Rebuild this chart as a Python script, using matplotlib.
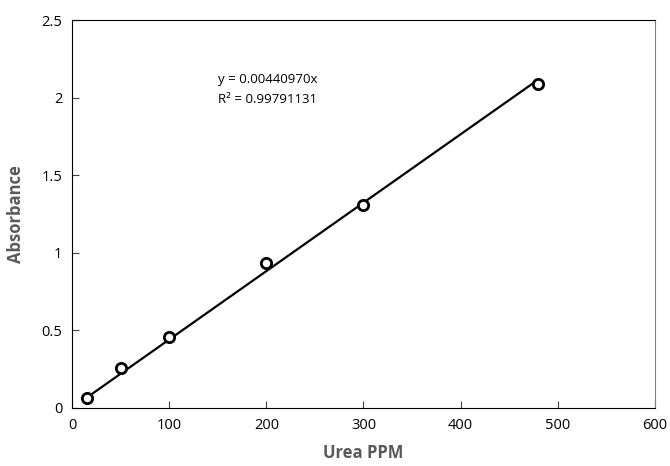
import matplotlib.pyplot as plt
import numpy as np

urea_ppm = [15, 50, 100, 200, 300, 480]
absorbance = [0.065, 0.26, 0.46, 0.935, 1.31, 2.09]
slope = 0.0044097
r_squared = 0.99791131

plt.rcParams['font.family'] = ['Open Sans', 'DejaVu Sans']

fig = plt.figure(figsize=(6.7, 4.66), dpi=100)
ax = fig.add_axes([0.1075, 0.1245, 0.870, 0.8325])

x_fit = np.array([min(urea_ppm), max(urea_ppm)])
ax.plot(x_fit, slope * x_fit, color='black', lw=1.6, zorder=2)
ax.scatter(urea_ppm, absorbance, s=55, facecolors='white', edgecolors='black',
           linewidths=2, zorder=3)

ax.text(150, 2.12, f"y = {slope:.8f}x", fontsize=9.5, va='center')
ax.text(150, 1.99, f"R² = {r_squared:.8f}", fontsize=9.5, va='center')

ax.set_xlim(0, 600)
ax.set_ylim(0, 2.5)
ax.set_xticks(range(0, 601, 100))
ax.set_yticks([0, 0.5, 1, 1.5, 2, 2.5])
ax.set_yticklabels(['0', '0.5', '1', '1.5', '2', '2.5'])
ax.tick_params(direction='in', length=5, labelsize=10.5, color='#404040', pad=7)
ax.set_xlabel('Urea PPM', fontsize=12, fontweight='bold', color='#595959', labelpad=8)
ax.set_ylabel('Absorbance', fontsize=12, fontweight='bold', color='#595959', labelpad=12)
for side in ['left', 'bottom', 'top']:
    ax.spines[side].set_color('black')
ax.spines['right'].set_color('#808080')

fig.savefig('out.png', dpi=100)
